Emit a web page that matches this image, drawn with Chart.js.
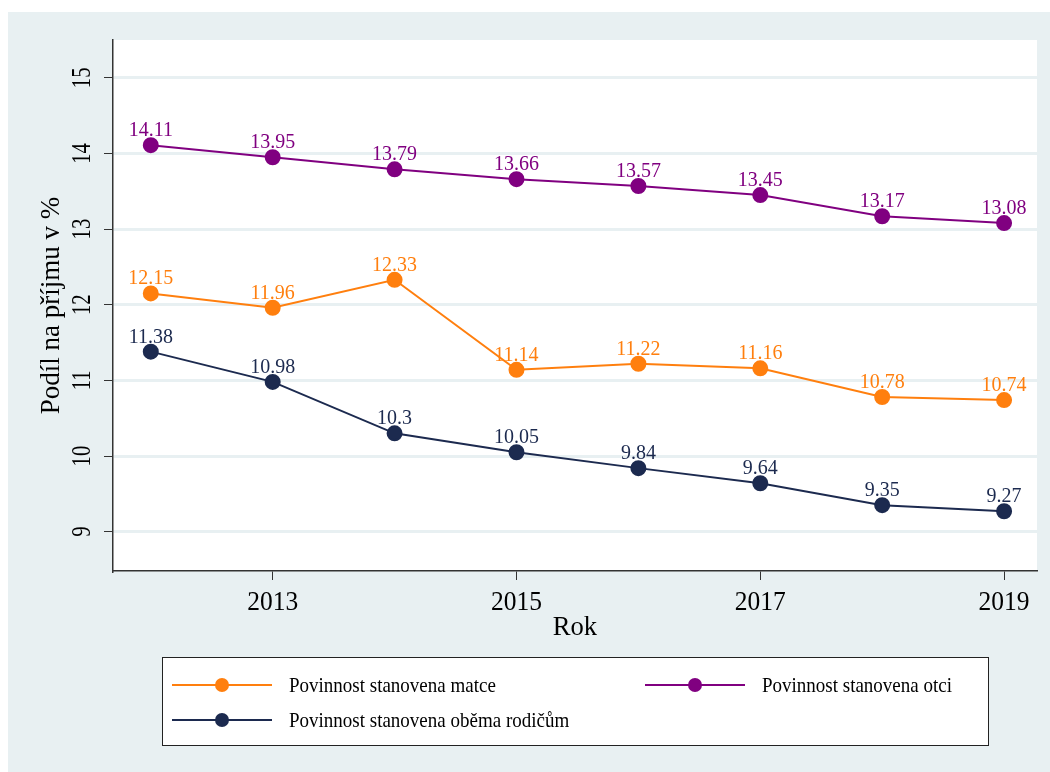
<!DOCTYPE html>
<html>
<head>
<meta charset="utf-8">
<script src="https://cdn.jsdelivr.net/npm/chart.js@4.4.1/dist/chart.umd.min.js"></script>
<style>
html,body{margin:0;padding:0;background:#fff;}
#wrap{position:relative;width:1050px;height:772px;}
</style>
</head>
<body>
<div id="wrap"><canvas id="c" width="1050" height="772"></canvas></div>
<script>
const years = [2012, 2013, 2014, 2015, 2016, 2017, 2018, 2019];
const matce = [12.15, 11.96, 12.33, 11.14, 11.22, 11.16, 10.78, 10.74];
const otci = [14.11, 13.95, 13.79, 13.66, 13.57, 13.45, 13.17, 13.08];
const obema = [11.38, 10.98, 10.30, 10.05, 9.84, 9.64, 9.35, 9.27];
const xTicks = [2013, 2015, 2017, 2019];
const yTicks = [9, 10, 11, 12, 13, 14, 15];
const seriesNames = ['Povinnost stanovena matce', 'Povinnost stanovena otci', 'Povinnost stanovena oběma rodičům'];
const yTitle = 'Podíl na příjmu v %';
const xTitle = 'Rok';

const COL_OR = '#ff7f0e';
const COL_PU = '#800080';
const COL_NV = '#1c2a4f';
const BG = '#e8f0f2';
const FONT = '"Liberation Serif", "DejaVu Serif", serif';

function ds(label, vals, color) {
  return {
    label, data: years.map((y, i) => ({x: y, y: vals[i]})),
    borderColor: color, backgroundColor: color, pointBackgroundColor: color,
    pointBorderColor: color, pointRadius: 7, pointHoverRadius: 7,
    borderWidth: 2, tension: 0
  };
}

// draw text centred (or left) at x,y with rotation and along/across scale
function drawText(ctx, txt, x, y, size, color, opts) {
  opts = opts || {};
  ctx.save();
  ctx.translate(x, y);
  if (opts.rot) ctx.rotate(opts.rot);
  ctx.scale(opts.sx || 1, opts.sy || 1);
  ctx.font = size + 'px ' + FONT;
  ctx.fillStyle = color;
  ctx.textAlign = opts.align || 'center';
  ctx.textBaseline = opts.base || 'middle';
  ctx.fillText(txt, 0, 0);
  ctx.restore();
}

const decor = {
  id: 'decor',
  beforeDraw(chart) {
    const ctx = chart.ctx, a = chart.chartArea;
    ctx.save();
    ctx.fillStyle = BG;
    ctx.fillRect(8, 12, 1042, 760);
    ctx.fillStyle = '#fff';
    ctx.fillRect(a.left, a.top, a.right - a.left, a.bottom - a.top);
    ctx.restore();
  },
  afterDraw(chart) {
    const ctx = chart.ctx, a = chart.chartArea;
    const ys = chart.scales.y, xs = chart.scales.x;
    // y tick labels rotated
    yTicks.forEach(v => {
      drawText(ctx, String(v), 83, ys.getPixelForValue(v), 28, '#000', {rot: -Math.PI / 2, sx: 0.74, sy: 1});
    });
    // x tick labels
    xTicks.forEach(v => {
      drawText(ctx, String(v), xs.getPixelForValue(v), 603, 28, '#000', {sx: 0.91, sy: 1});
    });
    // y title
    drawText(ctx, yTitle, 52, (a.top + a.bottom) / 2, 27, '#000', {rot: -Math.PI / 2});
    // x title
    drawText(ctx, xTitle, (a.left + a.right) / 2, 628, 28, '#000', {sx: 0.95});
    // data labels
    chart.data.datasets.forEach((d, di) => {
      const meta = chart.getDatasetMeta(di);
      meta.data.forEach((pt, i) => {
        drawText(ctx, String(d.data[i].y), pt.x, pt.y - 9, 20, d.borderColor, {base: 'alphabetic', sy: 1.05});
      });
    });
    // legend
    ctx.save();
    ctx.fillStyle = '#fff';
    ctx.fillRect(162, 657, 826, 88);
    ctx.strokeStyle = '#222';
    ctx.lineWidth = 1;
    ctx.strokeRect(162.5, 657.5, 826, 88);
    const items = [
      {x: 172, y: 685, c: COL_OR, t: seriesNames[0]},
      {x: 645, y: 685, c: COL_PU, t: seriesNames[1]},
      {x: 172, y: 720, c: COL_NV, t: seriesNames[2]}
    ];
    items.forEach(it => {
      ctx.strokeStyle = it.c; ctx.lineWidth = 2;
      ctx.beginPath(); ctx.moveTo(it.x, it.y); ctx.lineTo(it.x + 100, it.y); ctx.stroke();
      ctx.fillStyle = it.c;
      ctx.beginPath(); ctx.arc(it.x + 50, it.y, 7, 0, Math.PI * 2); ctx.fill();
      drawText(ctx, it.t, it.x + 117, it.y + 1, 19, '#000', {align: 'left', sy: 1.15});
    });
    ctx.restore();
  }
};

new Chart(document.getElementById('c'), {
  type: 'line',
  data: { datasets: [ds(seriesNames[0], matce, COL_OR), ds(seriesNames[1], otci, COL_PU), ds(seriesNames[2], obema, COL_NV)] },
  options: {
    responsive: false, animation: false, devicePixelRatio: 1,
    layout: {padding: {left: 0, top: 40, right: 13, bottom: 0}},
    plugins: {legend: {display: false}, tooltip: {enabled: false}, title: {display: false}},
    scales: {
      x: {
        type: 'linear', min: 2011.69, max: 2019.27,
        afterBuildTicks: s => { s.ticks = xTicks.map(v => ({value: v})); },
        afterFit: s => { s.height = 772 - 571; },
        grid: {drawOnChartArea: false, drawTicks: true, tickLength: 9, tickColor: '#333', tickWidth: 1},
        border: {display: true, color: '#333', width: 1.5},
        ticks: {display: false}
      },
      y: {
        type: 'linear', min: 8.48, max: 15.5,
        afterBuildTicks: s => { s.ticks = yTicks.map(v => ({value: v})); },
        afterFit: s => { s.width = 113; },
        grid: {color: BG, lineWidth: 3, drawTicks: true, tickLength: 9, tickColor: '#333', tickWidth: 1},
        border: {display: true, color: '#333', width: 1.5},
        ticks: {display: false}
      }
    }
  },
  plugins: [decor]
});
</script>
</body>
</html>
